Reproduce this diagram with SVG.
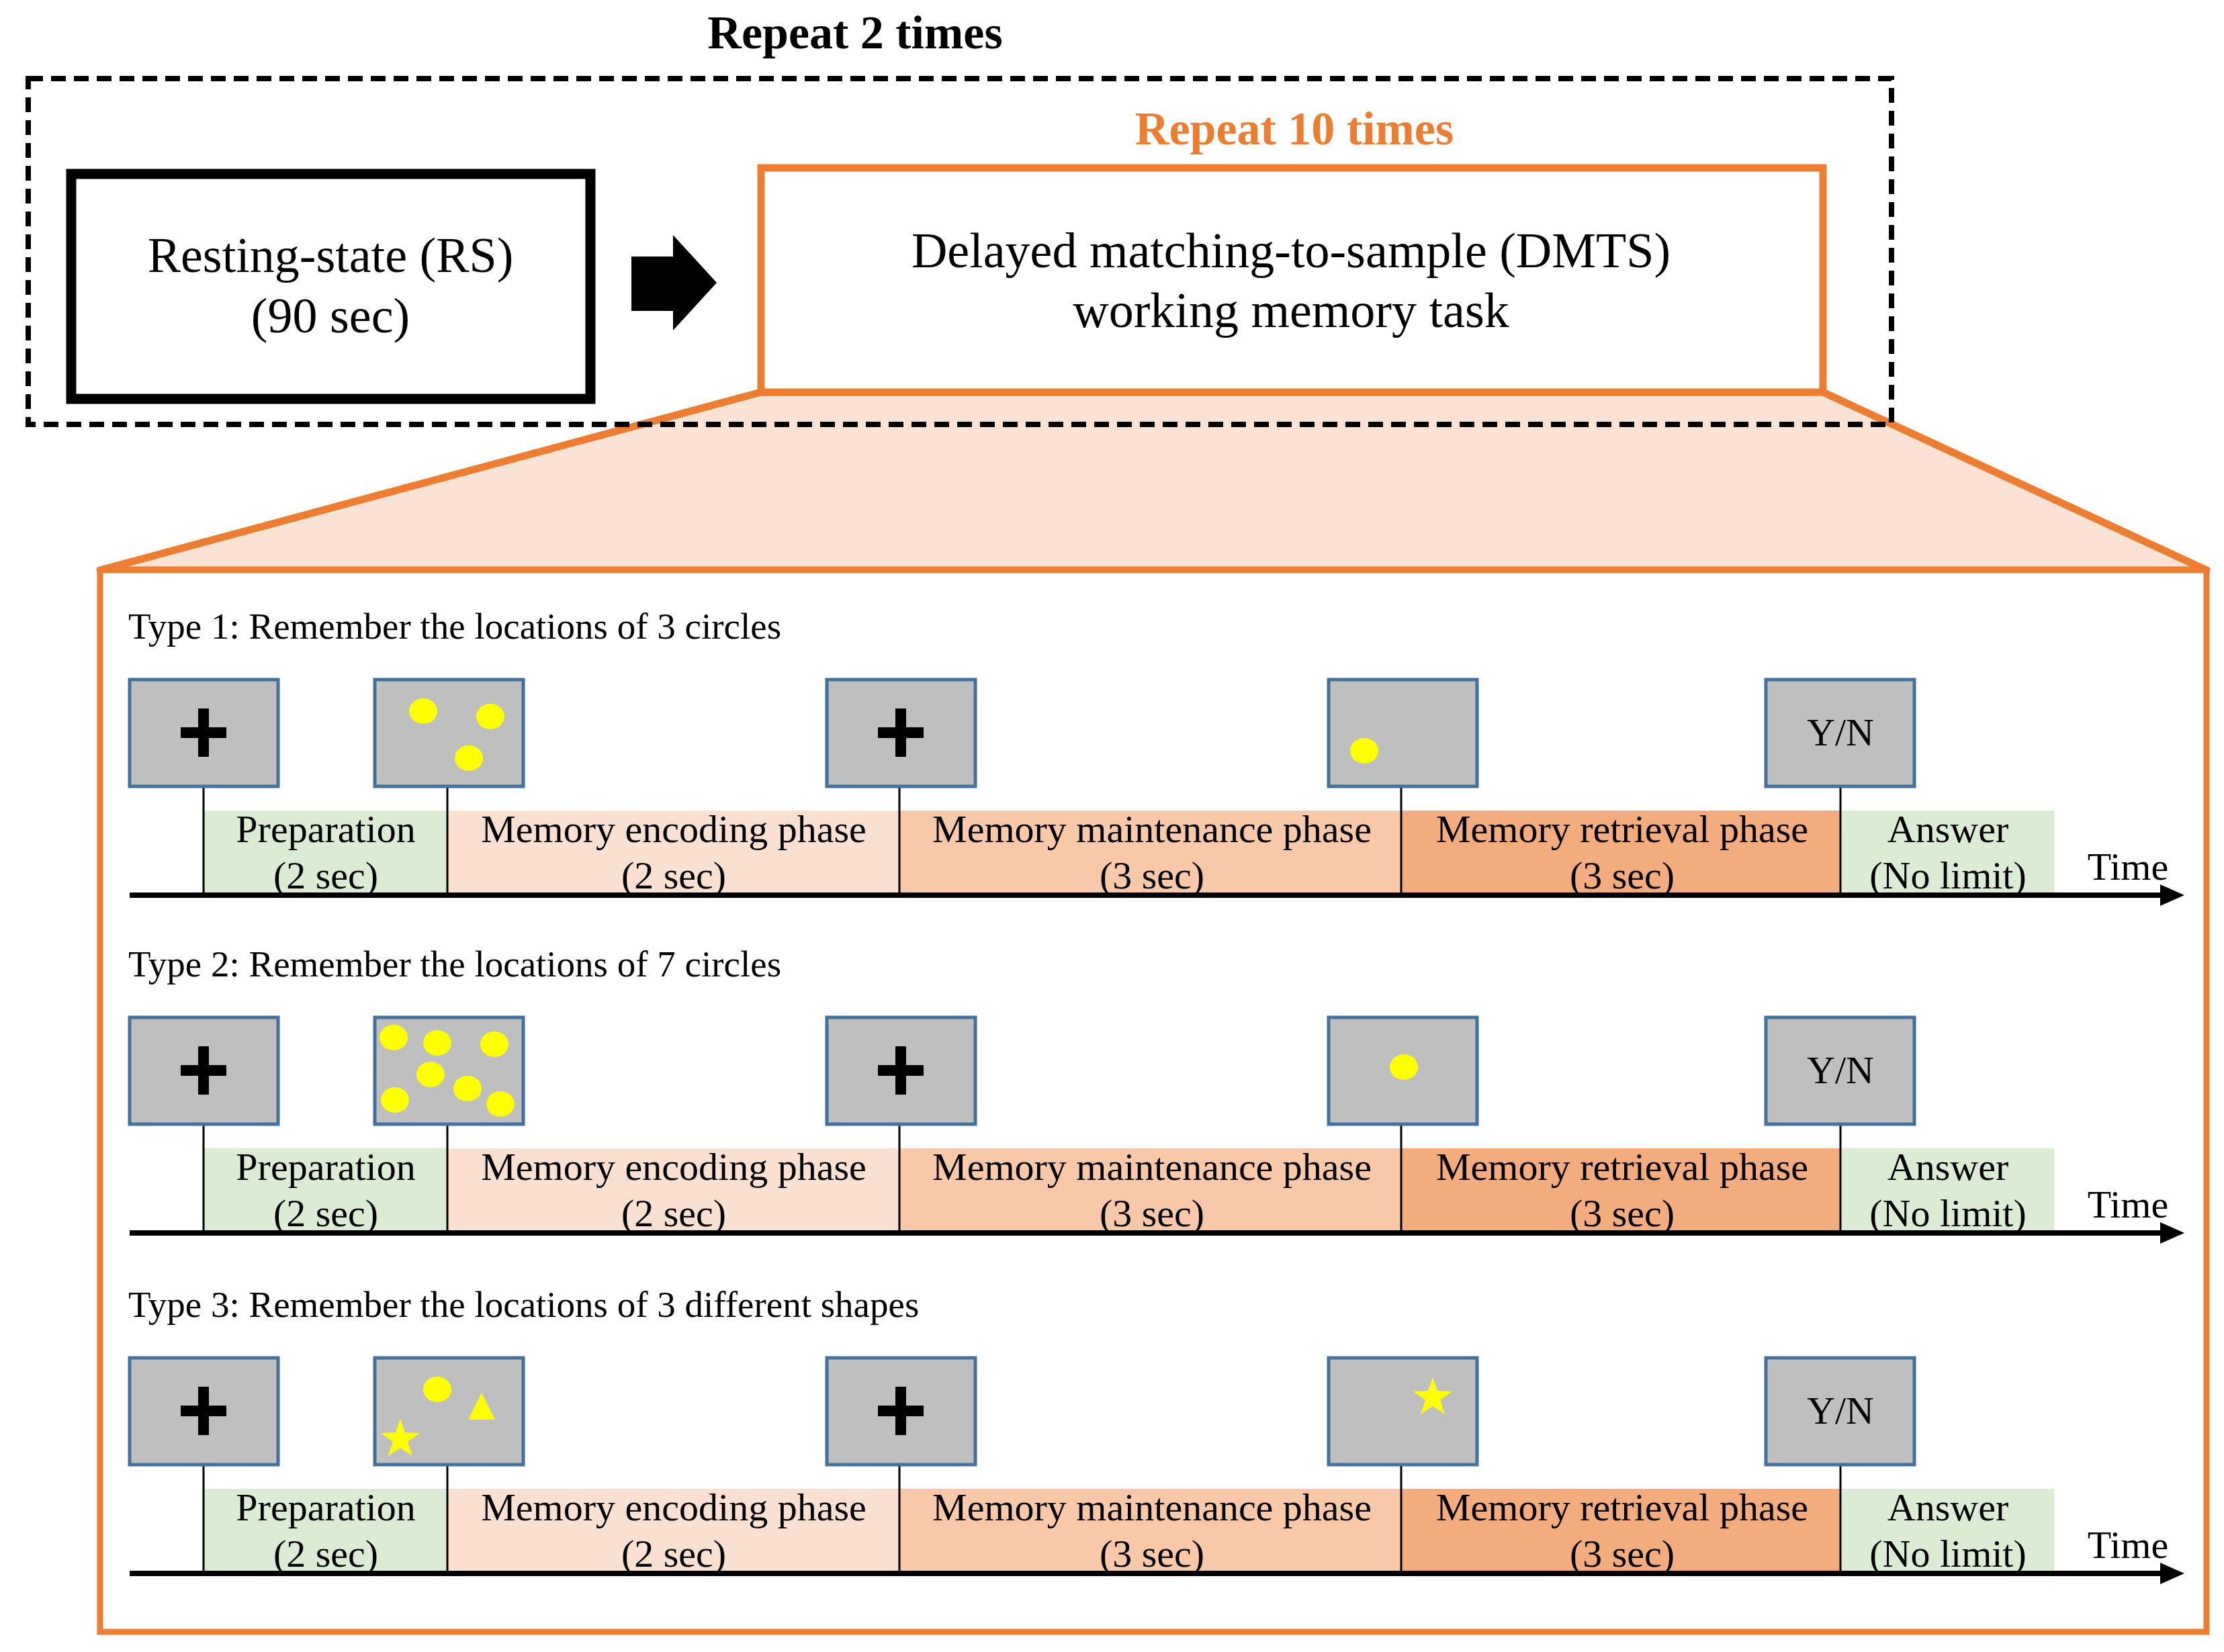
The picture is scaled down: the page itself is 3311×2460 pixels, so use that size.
<svg xmlns="http://www.w3.org/2000/svg" xmlns:xlink="http://www.w3.org/1999/xlink" width="3311" height="2460" viewBox="0 0 3311 2460">
<style>
text{font-family:"Liberation Serif","Times New Roman",serif;fill:#000}
.big{font-size:74px;text-anchor:middle}
.lbl{font-size:55px}
.ph{font-size:58px;text-anchor:middle}
.scr{fill:#bfbfbf;stroke:#41719c;stroke-width:5}
.vl{stroke:#000;stroke-width:3}
.dot{fill:#ffff00}
</style>
<defs>
<marker id="ah" markerWidth="6" markerHeight="6" refX="3" refY="2" orient="auto" markerUnits="strokeWidth">
<path d="M0,0 L4.5,2 L0,4 Z" fill="#000"/>
</marker>
<g id="plus"><rect x="-34" y="-8" width="68" height="16"/><rect x="-8" y="-36" width="16" height="72"/></g>
<polygon id="star" points="0,-30 7,-10 29,-9 11,4 18,25 0,13 -18,25 -11,4 -29,-9 -7,-10" fill="#ffff00"/>
<g id="row">
<rect x="303" y="1207" width="363" height="126" fill="#dcebd3"/>
<rect x="666" y="1207" width="673" height="126" fill="#fae0d0"/>
<rect x="1339" y="1207" width="747" height="126" fill="#f7c9a8"/>
<rect x="2086" y="1207" width="654" height="126" fill="#f2ac7d"/>
<rect x="2740" y="1207" width="318" height="126" fill="#dcebd3"/>
<line class="vl" x1="303" y1="1171" x2="303" y2="1333"/>
<line class="vl" x1="666" y1="1171" x2="666" y2="1333"/>
<line class="vl" x1="1339" y1="1171" x2="1339" y2="1333"/>
<line class="vl" x1="2086" y1="1171" x2="2086" y2="1333"/>
<line class="vl" x1="2740" y1="1171" x2="2740" y2="1333"/>
<line x1="193" y1="1333" x2="3240" y2="1333" stroke="#000" stroke-width="8" marker-end="url(#ah)"/>
<text class="ph" x="485" y="1254">Preparation</text><text class="ph" x="485" y="1323">(2 sec)</text>
<text class="ph" x="1003" y="1254">Memory encoding phase</text><text class="ph" x="1003" y="1323">(2 sec)</text>
<text class="ph" x="1715" y="1254">Memory maintenance phase</text><text class="ph" x="1715" y="1323">(3 sec)</text>
<text class="ph" x="2415" y="1254">Memory retrieval phase</text><text class="ph" x="2415" y="1323">(3 sec)</text>
<text class="ph" x="2900" y="1254">Answer</text><text class="ph" x="2900" y="1323">(No limit)</text>
<text class="ph" x="3168" y="1310">Time</text>
<rect class="scr" x="193" y="1012" width="221" height="159"/>
<use href="#plus" x="303" y="1091"/>
<rect class="scr" x="558" y="1012" width="221" height="159"/>
<rect class="scr" x="1231" y="1012" width="221" height="159"/>
<use href="#plus" x="1341" y="1091"/>
<rect class="scr" x="1978" y="1012" width="221" height="159"/>
<rect class="scr" x="2629" y="1012" width="221" height="159"/>
<text class="ph" x="2740" y="1110">Y/N</text>
</g>
</defs>
<text x="1273" y="72" style="font-size:70px;font-weight:bold;text-anchor:middle">Repeat 2 times</text>
<polygon points="1133,584 2714,584 3285,849 149,849" fill="#fae3d5" stroke="#ed7d31" stroke-width="11" stroke-linejoin="round"/>
<rect x="42" y="117" width="2774" height="515" fill="none" stroke="#000" stroke-width="8" stroke-dasharray="22,12"/>
<g id="rs">
<rect x="106" y="259" width="773" height="335" fill="#fff" stroke="#000" stroke-width="15"/>
<text class="big" x="492" y="405">Resting-state (RS)</text>
<text class="big" x="492" y="495">(90 sec)</text>
</g>
<g id="connectors">
<polygon points="940,382 1002,382 1002,350 1067,421 1002,492 1002,463 940,463" fill="#000"/>
</g>
<text x="1927" y="215" style="font-size:70px;font-weight:bold;text-anchor:middle;fill:#ed7d31">Repeat 10 times</text>
<g id="dmts">
<rect x="1133" y="250" width="1581" height="334" fill="#fff" stroke="#ed7d31" stroke-width="11"/>
<text class="big" x="1922" y="398">Delayed matching-to-sample (DMTS)</text>
<text class="big" x="1922" y="487">working memory task</text>
</g>
<g id="detail">
<rect x="149" y="849" width="3136" height="1581" fill="#fff" stroke="#ed7d31" stroke-width="9"/>
<g id="type1">
<text class="lbl" x="191" y="951">Type 1: Remember the locations of 3 circles</text>
<use href="#row"/>
<ellipse class="dot" cx="630" cy="1059" rx="21" ry="19"/>
<ellipse class="dot" cx="730" cy="1067" rx="21" ry="19"/>
<ellipse class="dot" cx="698" cy="1129" rx="21" ry="19"/>
<ellipse class="dot" cx="2031" cy="1118" rx="21" ry="19"/>
</g>
<g id="type2" transform="translate(0,503)">
<text class="lbl" x="191" y="951">Type 2: Remember the locations of 7 circles</text>
<use href="#row"/>
<ellipse class="dot" cx="586" cy="1042" rx="21" ry="19"/>
<ellipse class="dot" cx="651" cy="1050" rx="21" ry="19"/>
<ellipse class="dot" cx="736" cy="1052" rx="21" ry="19"/>
<ellipse class="dot" cx="641" cy="1097" rx="21" ry="19"/>
<ellipse class="dot" cx="696" cy="1118" rx="21" ry="19"/>
<ellipse class="dot" cx="588" cy="1135" rx="21" ry="19"/>
<ellipse class="dot" cx="745" cy="1141" rx="21" ry="19"/>
<ellipse class="dot" cx="2090" cy="1086" rx="21" ry="19"/>
</g>
<g id="type3" transform="translate(0,1010)">
<text class="lbl" x="191" y="951">Type 3: Remember the locations of 3 different shapes</text>
<use href="#row"/>
<ellipse class="dot" cx="651" cy="1059" rx="21" ry="19"/>
<polygon class="dot" points="717,1064 697,1104 737,1104"/>
<use href="#star" x="596" y="1133"/>
<use href="#star" x="2133" y="1071"/>
</g>
</g>
</svg>
